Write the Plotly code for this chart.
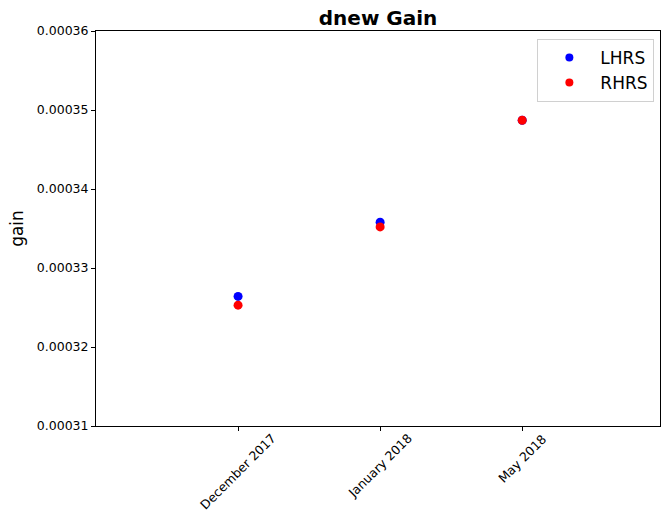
import plotly.graph_objects as go

categories = ["December 2017", "January 2018", "May 2018"]
positions = [1, 2, 3]
lhrs = [0.0003264, 0.0003358, 0.0003487]
rhrs = [0.0003253, 0.0003352, 0.0003487]
yticks = [0.00031, 0.00032, 0.00033, 0.00034, 0.00035, 0.00036]

font = "DejaVu Sans"
fig = go.Figure()
# data traces
fig.add_trace(go.Scatter(x=positions, y=lhrs, mode="markers", name="LHRS", showlegend=False,
                         marker=dict(color="#0000ff", size=9)))
fig.add_trace(go.Scatter(x=positions, y=rhrs, mode="markers", name="RHRS", showlegend=False,
                         marker=dict(color="#ff0000", size=9)))
# legend entries
fig.add_trace(go.Scatter(x=[None], y=[None], mode="markers", name="LHRS",
                         marker=dict(color="#0000ff", size=8)))
fig.add_trace(go.Scatter(x=[None], y=[None], mode="markers", name="RHRS",
                         marker=dict(color="#ff0000", size=8)))

annotations = []
for p, c in zip(positions, categories):
    annotations.append(dict(x=p, xref="x", y=0, yref="paper", yshift=-2,
                            text=c, showarrow=False, textangle=-45,
                            xanchor="center", yanchor="top",
                            font=dict(size=12.5, family=font, color="black")))

fig.update_layout(
    width=661, height=513,
    margin=dict(l=96, r=1, t=31, b=87),
    plot_bgcolor="white", paper_bgcolor="white",
    font=dict(family=font, color="black", size=12),
    title=dict(text="<b>dnew Gain</b>", x=0.572, xanchor="center", y=0.965, yanchor="middle",
               font=dict(size=20, family=font)),
    showlegend=True,
    legend=dict(x=0.99, y=0.98, xanchor="right", yanchor="top",
                bordercolor="#d0d0d0", borderwidth=1, bgcolor="rgba(255,255,255,0.8)",
                font=dict(size=17, family=font), itemsizing="trace", itemwidth=52),
    annotations=annotations,
)
fig.update_xaxes(range=[0, 3.97], tickvals=positions, showticklabels=False, automargin=False,
                 showgrid=False, zeroline=False, showline=True, linecolor="black", linewidth=1,
                 mirror=True, ticks="outside", ticklen=4, tickcolor="black")
fig.update_yaxes(range=[0.00031, 0.00036], tickvals=yticks, tickformat=".5f", automargin=False,
                 title=dict(text="gain", font=dict(size=17, family=font), standoff=8),
                 showgrid=False, zeroline=False, showline=True, linecolor="black", linewidth=1,
                 mirror=True, ticks="outside", ticklen=4, tickcolor="black",
                 tickfont=dict(size=12.5, family=font))

fig.write_html("out.html")
